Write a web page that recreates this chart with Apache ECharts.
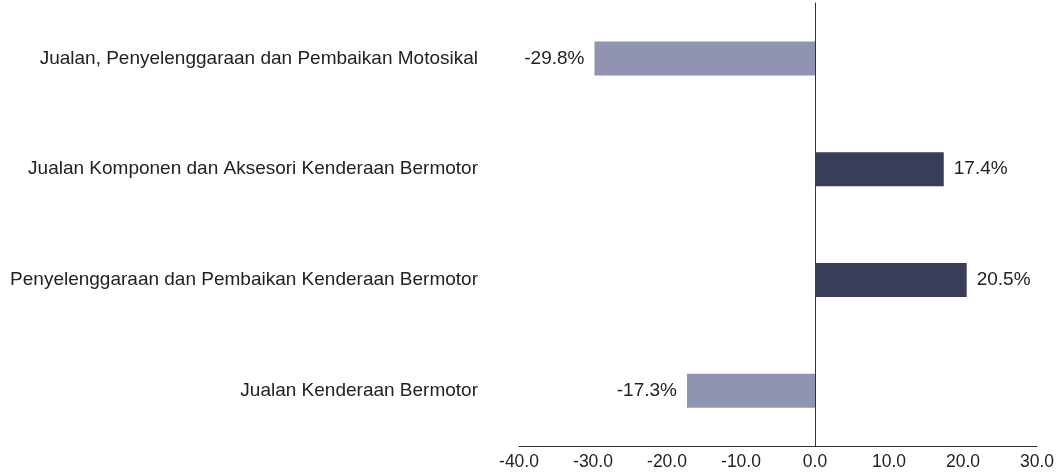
<!DOCTYPE html>
<html>
<head>
<meta charset="utf-8">
<script src="https://cdn.jsdelivr.net/npm/echarts@6/dist/echarts.min.js"></script>
<style>
  html, body { margin: 0; padding: 0; background: #fff; }
  #chart { width: 1058px; height: 473px; }
</style>
</head>
<body>
<div id="chart"></div>
<script>
var categories = [
    'Jualan, Penyelenggaraan dan Pembaikan Motosikal',
    'Jualan Komponen dan Aksesori Kenderaan Bermotor',
    'Penyelenggaraan dan Pembaikan Kenderaan Bermotor',
    'Jualan Kenderaan Bermotor'
];
var values = [-29.8, 17.4, 20.5, -17.3];

var negColor = '#9194B0';
var posColor = '#393D58';

var dom = document.getElementById('chart');
var myChart = echarts.init(dom);

var barData = [];
for (var i = 0; i < values.length; i++) {
    var neg = values[i] < 0;
    barData.push({
        value: values[i],
        itemStyle: { color: neg ? negColor : posColor },
        label: { position: neg ? 'left' : 'right' }
    });
}

var option = {
    animation: false,
    textStyle: { fontFamily: 'Liberation Sans, Arial, sans-serif' },
    grid: { left: 519, right: 21, top: 3, bottom: 27, containLabel: false },
    xAxis: {
        type: 'value',
        min: -40,
        max: 30,
        interval: 10,
        splitLine: { show: false },
        axisLine: { show: true, lineStyle: { color: '#333', width: 1 } },
        axisTick: { show: false },
        axisLabel: {
            color: '#222',
            fontSize: 17.5,
            margin: 7,
            formatter: function (v) { return v.toFixed(1); }
        }
    },
    yAxis: {
        type: 'category',
        data: categories,
        inverse: true,
        axisLine: { show: true, onZero: true, lineStyle: { color: '#333', width: 1 } },
        axisTick: { show: false },
        axisLabel: { color: '#222', fontSize: 19, margin: 41 }
    },
    series: [{
        type: 'bar',
        data: barData,
        barWidth: 34,
        label: {
            show: true,
            color: '#222',
            fontSize: 19,
            distance: 10,
            formatter: function (p) { return p.value.toFixed(1) + '%'; }
        }
    }]
};
myChart.setOption(option);
</script>
</body>
</html>
